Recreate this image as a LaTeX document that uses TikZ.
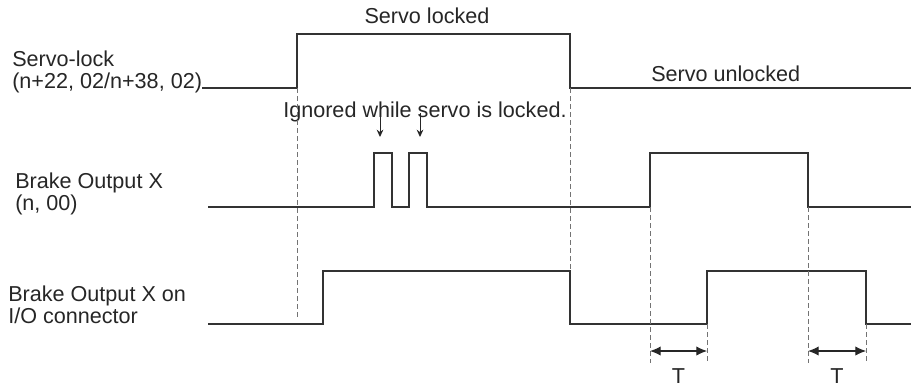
\documentclass[tikz,border=0pt]{standalone}
\usepackage{fontspec}
\setmainfont{Liberation Sans}
\usetikzlibrary{arrows.meta}

\begin{document}
\begin{tikzpicture}[
  x=0.75pt, y=-0.75pt,
  signal/.style={draw=black!80, line width=1pt, line join=miter},
  guide/.style={draw=black!55, line width=0.5pt, dash pattern=on 3.5pt off 2.5pt},
  sigtext/.style={inner sep=0pt, align=left, text=black!85, font=\fontsize{16.2}{16.5}\selectfont},
  ignore/.style={-{Stealth[length=5.5pt,width=5pt]}, line width=0.75pt, draw=black!85},
  tspan/.style={{Latex[length=8pt,width=7pt]}-{Latex[length=8pt,width=7pt]}, line width=0.8pt, draw=black!85}
]
  \useasboundingbox (0,0) rectangle (912,387);

  % signal names (base = last line)
  \node[sigtext, anchor=base west] (servolbl) at (12,88) {Servo-lock\\(n+22, 02/n+38, 02)};
  \node[sigtext, anchor=base west] (brakelbl) at (15,210) {Brake Output X\\(n, 00)};
  \node[sigtext, anchor=base west] (iolbl) at (8,323) {Brake Output X on\\I/O connector};

  % state texts
  \node[sigtext, anchor=base] (locked) at (427,23) {Servo locked};
  \node[sigtext, anchor=base west] (unlocked) at (651,81) {Servo unlocked};
  \node[sigtext, anchor=base west] (ignored) at (283,117) {Ignored while servo is locked.};

  % waveforms
  \draw[signal] (202,88) -- (297,88) -- (297,34) -- (570,34) -- (570,88) -- (911,88);
  \draw[signal] (208,207) -- (374,207) -- (374,153) -- (392,153) -- (392,207) -- (409,207)
    -- (409,153) -- (427,153) -- (427,207) -- (650,207) -- (650,153) -- (808,153)
    -- (808,207) -- (911,207);
  \draw[signal] (208,324) -- (323,324) -- (323,271) -- (570,271) -- (570,324) -- (707,324)
    -- (707,271) -- (866,271) -- (866,324) -- (911,324);

  % guide lines
  \draw[guide] (297,88) -- (297,318);
  \draw[guide] (570,88) -- (570,270);
  \draw[guide] (650,207) -- (650,363);
  \draw[guide] (707,324) -- (707,363);
  \draw[guide] (808,207) -- (808,363);
  \draw[guide] (866,324) -- (866,363);

  % ignored pulses
  \coordinate (ig1a) at (380,112);
  \coordinate (ig1b) at (380,137);
  \coordinate (ig2a) at (420,113);
  \coordinate (ig2b) at (420,137);
  \draw[ignore] (ig1a) -- (ig1b);
  \draw[ignore] (ig2a) -- (ig2b);

  % delay T
  \coordinate (t1a) at (650,351);
  \coordinate (t1b) at (707,351);
  \coordinate (t2a) at (808,351);
  \coordinate (t2b) at (866,351);
  \draw[tspan] (t1a) -- (t1b);
  \draw[tspan] (t2a) -- (t2b);
  \node[sigtext, anchor=base] (tlbl1) at (678.5,383) {T};
  \node[sigtext, anchor=base] (tlbl2) at (837,383) {T};
\end{tikzpicture}
\end{document}
